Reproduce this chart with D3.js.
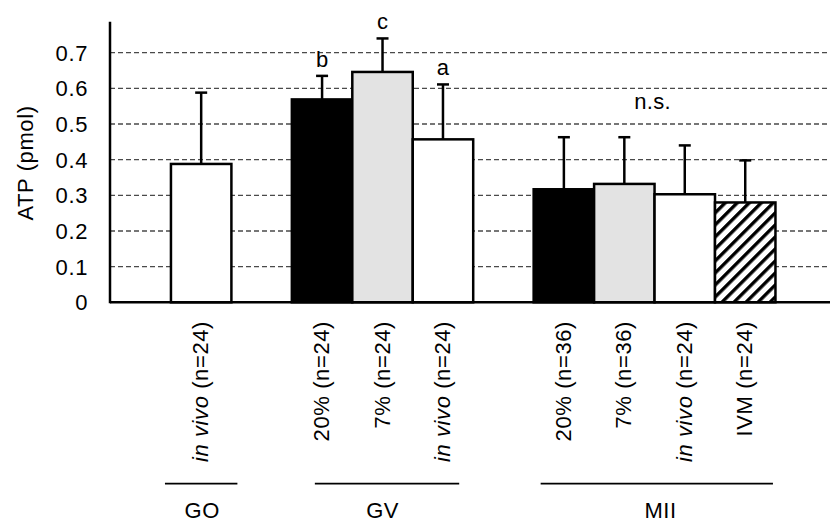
<!DOCTYPE html>
<html><head><meta charset="utf-8">
<script src="https://cdn.jsdelivr.net/npm/d3@7"></script>
<style>
html,body{margin:0;padding:0;background:#fff;}
text{font-family:"Liberation Sans",Arial,sans-serif;fill:#000;}
</style></head>
<body><svg id="chart" width="830" height="523"></svg>
<script>
// ---- data ----
const slots = ["s0","GO_invivo","s2","GV_20","GV_7","GV_invivo","s6","MII_20","MII_7","MII_invivo","MII_IVM","s11"];
const barKeys = ["GO_invivo","GV_20","GV_7","GV_invivo","MII_20","MII_7","MII_invivo","MII_IVM"];
const barMain = ["in vivo","20%","7%","in vivo","20%","7%","in vivo","IVM"];
const barItalic = [true,false,false,true,false,false,true,false];
const barN = [24,24,24,24,36,36,24,24];
const means = [0.388,0.569,0.646,0.457,0.317,0.332,0.303,0.280];
const sds = [0.200,0.066,0.094,0.154,0.146,0.131,0.137,0.118];
const fills = ["white","black","#e3e3e3","white","black","#e3e3e3","white","hatch"];
const letters = ["","b","c","a","","","",""];
const groups = ["GO","GV","MII"];
const groupFirst = ["GO_invivo","GV_20","MII_20"];
const groupLast = ["GO_invivo","GV_invivo","MII_IVM"];
const yTicks = [0,0.1,0.2,0.3,0.4,0.5,0.6,0.7];

// ---- layout ----
const svg = d3.select("#chart");
const x0 = 110, yBase = 302.3;
const x = d3.scaleBand().domain(slots).range([110.5, 110.5 + 12*60.45]).padding(0);
const y = d3.scaleLinear().domain([0,0.7]).range([yBase, 52.7]);
const FS = 22, LS = "0.6px";

const defs = svg.append("defs");
const pat = defs.append("pattern").attr("id","hatch").attr("patternUnits","userSpaceOnUse")
  .attr("width",8.5).attr("height",8.5).attr("patternTransform","rotate(45)");
pat.append("rect").attr("width",8.5).attr("height",8.5).attr("fill","white");
pat.append("rect").attr("x",0).attr("width",3.4).attr("height",8.5).attr("fill","black");

// grid
svg.append("g").selectAll("line").data(yTicks.filter(d=>d>0)).join("line")
  .attr("x1",x0).attr("x2",830).attr("y1",d=>y(d)).attr("y2",d=>y(d))
  .attr("stroke","#4a4a4a").attr("stroke-width",1.3).attr("stroke-dasharray","5,3");

// y tick labels
svg.append("g").selectAll("text").data(yTicks).join("text")
  .attr("x",88).attr("y",d=>y(d)).attr("dy","0.36em").attr("text-anchor","end")
  .style("font-size",FS+"px").style("letter-spacing",LS)
  .text(d=>d===0?"0":d.toFixed(1));

// y title
svg.append("text").attr("transform","translate(33,163) rotate(-90)")
  .attr("text-anchor","middle").style("font-size",FS+"px").style("letter-spacing",LS)
  .text("ATP (pmol)");

// bars
const bw = x.bandwidth();
svg.append("g").selectAll("rect").data(barKeys).join("rect")
  .attr("x",k=>x(k)).attr("width",bw)
  .attr("y",(k,i)=>y(means[i])).attr("height",(k,i)=>yBase - y(means[i]))
  .attr("fill",(k,i)=>fills[i]==="hatch"?"url(#hatch)":fills[i])
  .attr("stroke","black").attr("stroke-width",2.5);

// error bars
const eb = svg.append("g").attr("stroke","black").attr("stroke-width",2.5);
barKeys.forEach((k,i)=>{
  const cx = x(k)+bw/2, top = y(means[i]+sds[i]);
  eb.append("line").attr("x1",cx).attr("x2",cx).attr("y1",y(means[i])).attr("y2",top);
  eb.append("line").attr("x1",cx-6).attr("x2",cx+6).attr("y1",top).attr("y2",top);
});

// axes lines
svg.append("line").attr("x1",x0).attr("x2",830).attr("y1",yBase).attr("y2",yBase)
  .attr("stroke","black").attr("stroke-width",2.5);
svg.append("line").attr("x1",x0).attr("x2",x0).attr("y1",yBase+1).attr("y2",21.7)
  .attr("stroke","black").attr("stroke-width",2.5);

// significance letters
svg.append("g").selectAll("text").data(barKeys).join("text")
  .attr("x",k=>x(k)+bw/2).attr("y",(k,i)=>y(means[i]+sds[i])-9)
  .attr("text-anchor","middle").style("font-size",FS+"px")
  .text((k,i)=>letters[i]);
svg.append("text").attr("x",(x("MII_7")+x("MII_invivo")+bw)/2 - 2).attr("y",109)
  .attr("text-anchor","middle").style("font-size",FS+"px").style("letter-spacing","0.3px").text("n.s.");

// x labels
const xl = svg.append("g");
barKeys.forEach((k,i)=>{
  const t = xl.append("text")
    .attr("transform",`translate(${x(k)+bw/2+7},321) rotate(-90)`)
    .attr("text-anchor","end").style("font-size",FS+"px").style("letter-spacing",LS);
  t.append("tspan").style("font-style",barItalic[i]?"italic":"normal").text(barMain[i]);
  t.append("tspan").text(" (n=" + barN[i] + ")");
});

// group brackets
const inset = [[-6,-6],[23,14],[7,2.5]];
const labelShift = [1,0,6];
groups.forEach((g,i)=>{
  const a = x(groupFirst[i]) + inset[i][0];
  const b = x(groupLast[i]) + bw - inset[i][1];
  svg.append("line").attr("x1",a).attr("x2",b).attr("y1",483.7).attr("y2",483.7)
    .attr("stroke","black").attr("stroke-width",1.7);
  svg.append("text").attr("x",(x(groupFirst[i])+x(groupLast[i])+bw)/2 + labelShift[i]).attr("y",517.5)
    .attr("text-anchor","middle").style("font-size",FS+"px").style("letter-spacing","0.5px").text(g);
});
</script></body></html>
